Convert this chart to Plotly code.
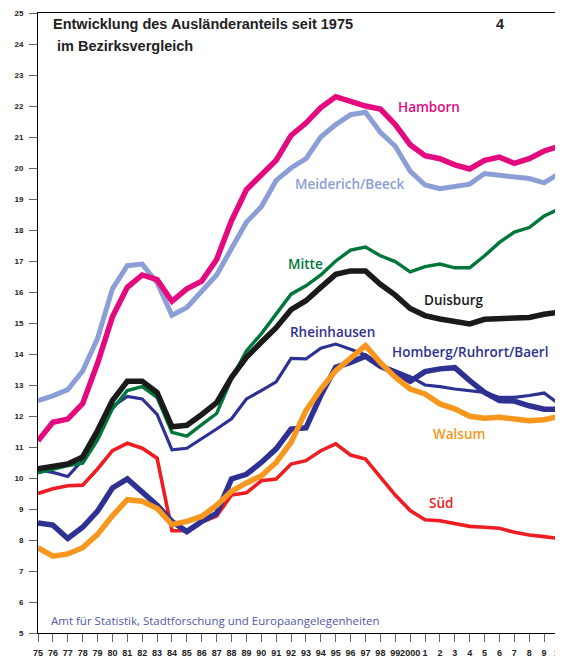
import plotly.graph_objects as go

years = list(range(1975, 2011))

hamborn = [11.2, 11.8, 11.9, 12.4, 13.7, 15.2, 16.15, 16.55, 16.4, 15.7, 16.1, 16.35,
           17.05, 18.3, 19.3, 19.8, 20.25, 21.05, 21.45, 21.95, 22.3, 22.15, 22.0, 21.9,
           21.4, 20.75, 20.4, 20.3, 20.1, 19.97, 20.25, 20.35, 20.15, 20.3, 20.55, 20.7]
meiderich = [12.5, 12.65, 12.85, 13.45, 14.5, 16.1, 16.85, 16.9, 16.3, 15.25, 15.5, 16.05,
             16.55, 17.4, 18.25, 18.75, 19.6, 20.0, 20.3, 21.0, 21.4, 21.72, 21.8, 21.15,
             20.7, 19.9, 19.45, 19.33, 19.4, 19.48, 19.82, 19.76, 19.72, 19.66, 19.52, 19.82]
mitte = [10.17, 10.28, 10.4, 10.48, 11.23, 12.23, 12.82, 12.95, 12.6, 11.47, 11.35, 11.72,
         12.08, 13.2, 14.1, 14.65, 15.3, 15.93, 16.2, 16.55, 17.0, 17.35, 17.45, 17.17,
         16.98, 16.65, 16.82, 16.9, 16.78, 16.78, 17.17, 17.6, 17.93, 18.08, 18.45, 18.68]
duisburg = [10.3, 10.36, 10.45, 10.68, 11.53, 12.5, 13.12, 13.12, 12.76, 11.65, 11.7, 12.05,
            12.43, 13.25, 13.89, 14.38, 14.85, 15.43, 15.72, 16.15, 16.57, 16.68, 16.68, 16.25,
            15.9, 15.47, 15.24, 15.13, 15.04, 14.97, 15.12, 15.15, 15.15, 15.18, 15.28, 15.35]
rheinhausen = [10.27, 10.18, 10.05, 10.58, 11.4, 12.3, 12.63, 12.55, 12.05, 10.91, 10.96, 11.26,
               11.58, 11.91, 12.55, 12.82, 13.1, 13.86, 13.84, 14.19, 14.32, 14.15, 13.97, 13.65,
               13.46, 13.27, 13.0, 12.95, 12.87, 12.82, 12.76, 12.6, 12.6, 12.66, 12.74, 12.39]
homberg = [8.55, 8.48, 8.05, 8.41, 8.93, 9.68, 9.97, 9.55, 9.12, 8.6, 8.27, 8.6,
           8.86, 9.97, 10.12, 10.5, 10.94, 11.58, 11.62, 12.66, 13.57, 13.73, 13.93, 13.6,
           13.4, 13.12, 13.43, 13.52, 13.56, 13.14, 12.76, 12.5, 12.48, 12.33, 12.22, 12.22]
walsum = [7.75, 7.48, 7.55, 7.75, 8.18, 8.78, 9.3, 9.25, 9.02, 8.5, 8.6, 8.76,
          9.12, 9.57, 9.84, 10.07, 10.5, 11.15, 12.17, 12.87, 13.46, 13.89, 14.27, 13.72,
          13.25, 12.87, 12.71, 12.39, 12.23, 11.99, 11.93, 11.96, 11.9, 11.85, 11.88, 11.99]
sued = [9.5, 9.65, 9.75, 9.77, 10.29, 10.88, 11.12, 10.96, 10.64, 8.3, 8.3, 8.58,
        8.77, 9.45, 9.52, 9.91, 9.97, 10.45, 10.56, 10.88, 11.1, 10.74, 10.61, 10.02,
        9.45, 8.95, 8.65, 8.62, 8.52, 8.44, 8.41, 8.38, 8.25, 8.16, 8.11, 8.05]

x_ticklabels = ["75", "76", "77", "78", "79", "80", "81", "82", "83", "84", "85", "86",
                "87", "88", "89", "90", "91", "92", "93", "94", "95", "96", "97", "98",
                "99", "2000", "1", "2", "3", "4", "5", "6", "7", "8", "9", "10"]
y_ticks = list(range(5, 26))

series = [
    ("Süd", sued, "#EE1D23", 3.6, 2002.06, 9.19),
    ("Homberg/Ruhrort/Baerl", homberg, "#2E3192", 5.5, 2004.0, 14.06),
    ("Rheinhausen", rheinhausen, "#2E3192", 3.2, 1994.8, 14.71),
    ("Walsum", walsum, "#F7971D", 5.5, 2003.27, 11.42),
    ("Mitte", mitte, "#00773A", 3.4, 1992.97, 16.9),
    ("Duisburg", duisburg, "#1A1A1A", 5.5, 2002.93, 15.74),
    ("Meiderich/Beeck", meiderich, "#8B9ED6", 5.0, 1995.93, 19.48),
    ("Hamborn", hamborn, "#E5097F", 5.5, 2001.3, 21.97),
]

fig = go.Figure()
for name, vals, col, w, lx, ly in series:
    fig.add_trace(go.Scatter(x=years, y=vals, mode="lines", name=name,
                             line=dict(color=col, width=w), showlegend=False))
    fig.add_annotation(x=lx, y=ly, text=name, showarrow=False, xanchor="center",
                       yanchor="middle",
                       font=dict(family="Open Sans", size=13.5, color=col, weight=600))

fig.add_annotation(x=0.024, xref="paper", y=24.65, yref="y", text="Entwicklung des Ausländeranteils seit 1975",
                   showarrow=False, xanchor="left", yanchor="middle",
                   font=dict(family="Liberation Sans", size=14.5, color="#222222", weight="bold"))
fig.add_annotation(x=0.033, xref="paper", y=23.95, yref="y", text="im Bezirksvergleich",
                   showarrow=False, xanchor="left", yanchor="middle",
                   font=dict(family="Liberation Sans", size=14.5, color="#222222", weight="bold"))
fig.add_annotation(x=0.887, xref="paper", y=24.65, yref="y", text="4",
                   showarrow=False, xanchor="center", yanchor="middle",
                   font=dict(family="Liberation Sans", size=14.5, color="#222222", weight="bold"))
fig.add_annotation(x=1975.75, y=5.4, text="Amt für Statistik, Stadtforschung und Europaangelegenheiten",
                   showarrow=False, xanchor="left", yanchor="middle",
                   font=dict(family="Open Sans", size=11.5, color="#5059AA"))

# the page adds an 8px body margin, so the figure is sized to fit inside the window
fig.update_layout(
    width=555, height=651,
    margin=dict(l=30, r=4, t=5, b=26),
    paper_bgcolor="white", plot_bgcolor="white",
    xaxis=dict(range=[1975, 2010], tickmode="array", tickvals=years, ticktext=x_ticklabels,
               tickangle=0, showgrid=False, zeroline=False, showline=True, linecolor="black",
               linewidth=1, mirror=True, ticks="outside", ticklen=8, tickcolor="#666666",
               tickwidth=1, ticklabelstandoff=3, automargin=False, ticklabeloverflow="allow",
               tickfont=dict(family="Liberation Sans", size=9, color="#222222", weight="bold")),
    yaxis=dict(range=[5, 25], tickmode="array", tickvals=y_ticks, showgrid=False,
               zeroline=False, showline=True, linecolor="black", linewidth=1, mirror=True,
               ticks="outside", ticklen=8, tickcolor="#666666", tickwidth=1,
               ticklabelstandoff=4, automargin=False,
               tickfont=dict(family="Liberation Sans", size=8, color="#222222", weight="bold")),
)

fig.write_html("out.html")
